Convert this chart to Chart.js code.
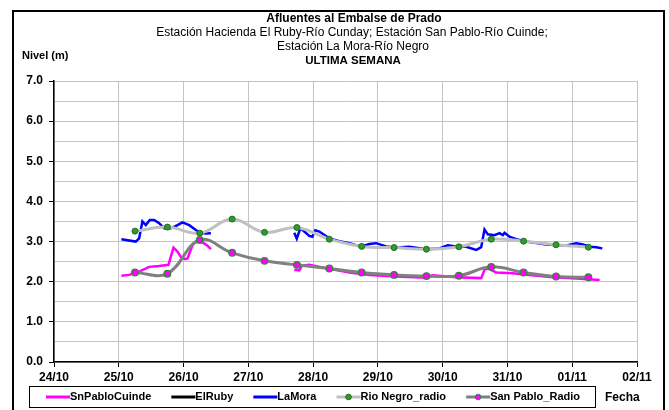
<!DOCTYPE html>
<html>
<head>
<meta charset="utf-8">
<script src="https://cdn.jsdelivr.net/npm/chart.js@4.4.1/dist/chart.umd.min.js"></script>
<style>
  html, body { margin: 0; padding: 0; background: #fff; }
  #wrap { width: 669px; height: 410px; }
</style>
</head>
<body>
<div id="wrap"><canvas id="chartNivel" width="669" height="410"></canvas></div>
<script>
// Etiquetas del eje X (días desde 24/10)
const dateLabels = ['24/10', '25/10', '26/10', '27/10', '28/10', '29/10', '30/10', '31/10', '01/11', '02/11'];

// SnPabloCuinde (estación, cada punto: día, nivel). null = sin dato
const cuindeDays = [1.040, 1.159, 1.314, 1.468, 1.623, 1.767, 1.844, 1.906, 1.958, 2.025, 2.060, 2.138, 2.215, 2.292, 2.360, 2.422,
  3.0,
  3.709, 3.787, 3.828, 3.941, 4.250, 4.560, 4.869, 5.281, 5.745, 5.847, 6.209, 6.595, 6.646, 6.697, 6.827, 7.083, 7.342, 7.702, 8.063, 8.423];
const cuindeVals = [2.15, 2.17, 2.25, 2.37, 2.39, 2.42, 2.85, 2.75, 2.62, 2.56, 2.58, 2.91, 3.04, 2.98, 2.91, 2.81,
  null,
  2.30, 2.28, 2.40, 2.42, 2.32, 2.23, 2.17, 2.13, 2.10, 2.16, 2.11, 2.09, 2.30, 2.33, 2.23, 2.21, 2.17, 2.11, 2.08, 2.04];

// ElRuby : sin datos en la semana
const rubyDays = [];
const rubyVals = [];

// LaMora
const moraDays = [1.040, 1.263, 1.314, 1.365, 1.417, 1.479, 1.546, 1.623, 1.700, 1.804, 1.906, 1.983, 2.087, 2.190, 2.267, 2.345, 2.422,
  3.0,
  3.709, 3.748, 3.802, 3.864, 3.941, 3.988, 4.034, 4.096, 4.250, 4.405, 4.560, 4.740, 4.869, 4.972, 5.127, 5.281,
  5.487, 5.745, 5.950, 6.079, 6.209, 6.363, 6.518, 6.595, 6.646, 6.697, 6.801, 6.878, 6.929, 6.955, 7.032, 7.136,
  7.290, 7.600, 7.909, 8.063, 8.165, 8.269, 8.372, 8.465];
const moraVals = [3.06, 3.00, 3.08, 3.50, 3.41, 3.54, 3.54, 3.46, 3.33, 3.33, 3.41, 3.48, 3.41, 3.29, 3.21, 3.20, 3.21,
  null,
  3.22, 3.07, 3.33, 3.25, 3.14, 3.12, 3.28, 3.25, 3.08, 3.01, 2.96, 2.87, 2.94, 2.96, 2.88, 2.85,
  2.87, 2.81, 2.83, 2.91, 2.88, 2.87, 2.79, 2.86, 3.30, 3.18, 3.16, 3.21, 3.16, 3.22, 3.12, 3.06,
  3.00, 2.93, 2.90, 2.96, 2.93, 2.87, 2.86, 2.83];

// Series radio (cada 12 h)
const radioDays = [1.25, 1.75, 2.25, 2.75, 3.25, 3.75, 4.25, 4.75, 5.25, 5.75, 6.25, 6.75, 7.25, 7.75, 8.25];
const rioNegroVals = [3.26, 3.36, 3.21, 3.56, 3.23, 3.35, 3.06, 2.88, 2.85, 2.81, 2.87, 3.06, 3.01, 2.92, 2.86];
const sanPabloVals = [2.23, 2.20, 3.04, 2.72, 2.52, 2.42, 2.33, 2.23, 2.17, 2.14, 2.15, 2.37, 2.23, 2.13, 2.11];

const FONT = '"Liberation Sans", Arial, sans-serif';

function toPoints(days, vals) {
    return days.map((d, i) => ({ x: d, y: vals[i] }));
}

/**
 * Marco, títulos, leyenda y etiquetas dibujados sobre el canvas
 */
const decorPlugin = {
    id: 'decor',
    afterDraw(chart) {
        const ctx = chart.ctx;
        ctx.save();

        // marco exterior
        ctx.strokeStyle = '#000';
        ctx.lineWidth = 2;
        ctx.beginPath();
        ctx.moveTo(13, 412);
        ctx.lineTo(13, 11);
        ctx.lineTo(664, 11);
        ctx.lineTo(664, 412);
        ctx.stroke();

        // títulos
        ctx.fillStyle = '#000';
        ctx.textAlign = 'center';
        ctx.textBaseline = 'middle';
        ctx.font = 'bold 12px ' + FONT;
        ctx.fillText('Afluentes al Embalse de Prado', 354, 19);
        ctx.font = '12px ' + FONT;
        ctx.fillText('Estación Hacienda El Ruby-Río Cunday; Estación San Pablo-Río Cuinde;', 352, 33);
        ctx.fillText('Estación La Mora-Río Negro', 353, 47);
        ctx.font = 'bold 11.5px ' + FONT;
        ctx.fillText('ULTIMA SEMANA', 353, 61);

        ctx.font = 'bold 11px ' + FONT;
        ctx.textAlign = 'left';
        ctx.fillText('Nivel (m)', 22, 56);
        ctx.font = 'bold 12px ' + FONT;
        ctx.fillText('Fecha', 605, 398);

        // leyenda
        const items = chart.data.datasets.map(ds => ds);
        ctx.font = 'bold 11px ' + FONT;
        const lineLen = 24;
        const widths = items.map(ds => lineLen + ctx.measureText(ds.label).width);
        const startX = 46, endX = 580;
        const gap = (endX - startX - widths.reduce((a, b) => a + b, 0)) / (items.length - 1);
        const ly = 397;

        ctx.lineWidth = 1;
        ctx.strokeStyle = '#000';
        ctx.strokeRect(29.5, 386.5, 566, 21);

        let x = startX;
        items.forEach((ds, i) => {
            ctx.strokeStyle = ds.borderColor;
            ctx.lineWidth = 3;
            ctx.beginPath();
            ctx.moveTo(x, ly);
            ctx.lineTo(x + lineLen, ly);
            ctx.stroke();
            if (ds.legendMarker) {
                ctx.beginPath();
                ctx.arc(x + lineLen / 2, ly, 2.8, 0, Math.PI * 2);
                ctx.fillStyle = ds.pointBackgroundColor;
                ctx.fill();
                ctx.lineWidth = 1;
                ctx.strokeStyle = ds.pointBorderColor;
                ctx.stroke();
            }
            ctx.fillStyle = '#000';
            ctx.textAlign = 'left';
            ctx.fillText(ds.label, x + lineLen, ly);
            x += widths[i] + gap;
        });

        ctx.restore();
    }
};

const canvas = document.getElementById('chartNivel');
const ctx = canvas.getContext('2d');

new Chart(ctx, {
    type: 'line',
    data: {
        datasets: [
            { label: 'SnPabloCuinde', data: toPoints(cuindeDays, cuindeVals), borderColor: '#ff00ff', borderWidth: 2.5, pointRadius: 0, tension: 0, order: 5 },
            { label: 'ElRuby', data: toPoints(rubyDays, rubyVals), borderColor: '#000000', borderWidth: 2.5, pointRadius: 0, order: 4 },
            { label: 'LaMora', data: toPoints(moraDays, moraVals), borderColor: '#0000ff', borderWidth: 2.5, pointRadius: 0, tension: 0, order: 3 },
            { label: 'Rio Negro_radio', data: toPoints(radioDays, rioNegroVals), borderColor: '#c0c0c0', borderWidth: 3,
              pointRadius: 3, pointBackgroundColor: '#2f9a2f', pointBorderColor: '#1f6f1f', pointBorderWidth: 1,
              tension: 0.4, order: 2, legendMarker: true },
            { label: 'San Pablo_Radio', data: toPoints(radioDays, sanPabloVals), borderColor: '#808080', borderWidth: 3,
              pointRadius: 3.3, pointBackgroundColor: '#ff00ff', pointBorderColor: '#2f8a2f', pointBorderWidth: 1.3,
              tension: 0.4, order: 1, legendMarker: true },
        ]
    },
    options: {
        responsive: false,
        animation: false,
        devicePixelRatio: 1,
        spanGaps: false,
        layout: { padding: { left: 0, right: 32, top: 81, bottom: 0 } },
        plugins: {
            legend: { display: false },
            tooltip: { enabled: false },
            title: { display: false }
        },
        scales: {
            x: {
                type: 'linear',
                min: 0,
                max: 9,
                afterFit: scale => { scale.height = 48; },
                grid: { color: '#c4c4c4', lineWidth: 1, tickColor: '#000', tickLength: 5 },
                border: { color: '#000', width: 1.5 },
                ticks: {
                    stepSize: 1,
                    autoSkip: false,
                    maxRotation: 0,
                    padding: 3,
                    color: '#000',
                    font: { family: FONT, size: 12, weight: 'bold' },
                    callback: v => dateLabels[v]
                }
            },
            y: {
                min: 0,
                max: 7,
                afterFit: scale => { scale.width = 54; },
                grid: {
                    color: '#c4c4c4',
                    lineWidth: 1,
                    tickLength: 5,
                    tickColor: c => Number.isInteger(c.tick.value) ? '#000' : 'rgba(0,0,0,0)'
                },
                border: { color: '#000', width: 1.5 },
                ticks: {
                    stepSize: 0.5,
                    autoSkip: false,
                    padding: 6,
                    color: '#000',
                    font: { family: FONT, size: 12, weight: 'bold' },
                    callback: v => Number.isInteger(v) ? v.toFixed(1) : ''
                }
            }
        }
    },
    plugins: [decorPlugin]
});
</script>
</body>
</html>
